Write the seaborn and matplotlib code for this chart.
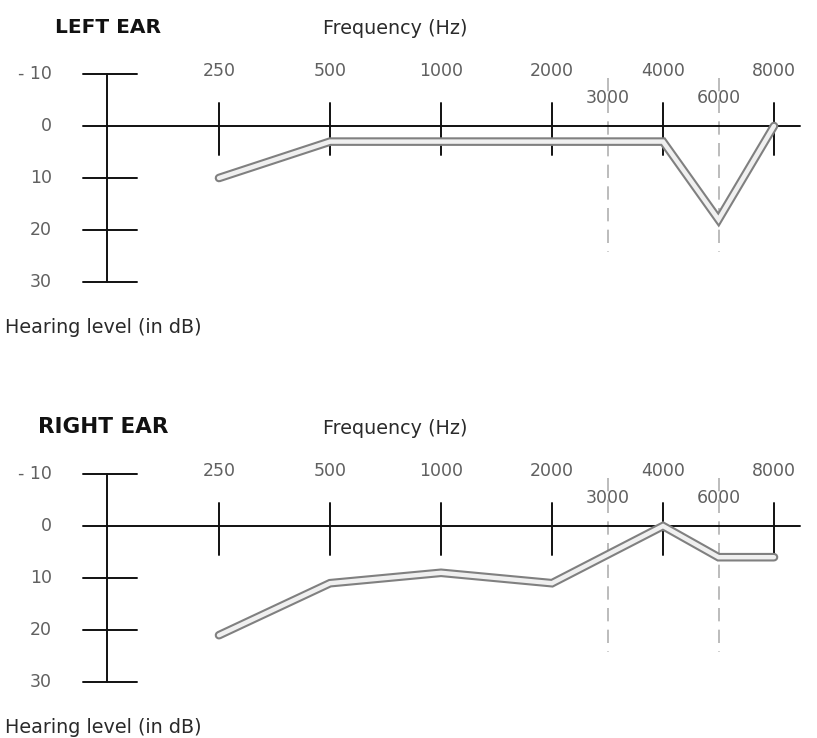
import matplotlib
matplotlib.use("Agg")
import matplotlib.pyplot as plt
import seaborn as sns
import pandas as pd

# ---- data ----
freqs = [250, 500, 1000, 2000, 4000, 6000, 8000]
left_db = [10, 3, 3, 3, 3, 18, 0]
right_db = [21, 11, 9, 11, 0, 6, 6]
main_freq_labels = [250, 500, 1000, 2000, 4000, 8000]
half_freq_labels = [3000, 6000]
db_ticks = [-10, 0, 10, 20, 30]
db_tick_labels = ["- 10", "0", "10", "20", "30"]

# audiogram horizontal scale: octaves equally spaced, 3000/6000 half-way
pos = {250: 0, 500: 1, 1000: 2, 2000: 3, 3000: 3.5, 4000: 4, 6000: 4.5, 8000: 5}

sns.set_theme(style="white")
plt.rcParams['font.family'] = ['DejaVu Sans']

fig = plt.figure(figsize=(8.17, 7.38), dpi=100)
W, H = 817, 738

def px_to_x(px):
    return (px - 219) / 111.0

XL = (px_to_x(0), px_to_x(W))
TXT = '#2a2a2a'
NUM = '#606060'

panels = [
    dict(title="LEFT EAR", data=left_db, rows=(0, 369), zero=126, title_px=55, tfs=14.5),
    dict(title="RIGHT EAR", data=right_db, rows=(369, 738), zero=526, title_px=38, tfs=15.5),
]

for p in panels:
    r0, r1 = p['rows']
    ax = fig.add_axes([0, 1 - r1 / H, 1, (r1 - r0) / H])
    scale = 5.2
    ax.set_xlim(*XL)
    ax.set_ylim((r1 - p['zero']) / scale, (r0 - p['zero']) / scale)
    ax.axis('off')

    lx = -1.009
    # vertical dB axis
    ax.plot([lx, lx], [-10, 30], color='#111111', lw=1.4, zorder=2)
    for t in db_ticks:
        if t != 0:
            ax.plot([px_to_x(83), px_to_x(137)], [t, t], color='#111111', lw=1.4, zorder=2)
    # zero line
    ax.plot([px_to_x(83), px_to_x(800)], [0, 0], color='#111111', lw=1.4, zorder=2)
    # frequency ticks
    for f in main_freq_labels:
        ax.plot([pos[f], pos[f]], [-4.4, 5.6], color='#111111', lw=1.4, zorder=2)
        ax.text(pos[f], -10.5, str(f), ha='center', va='center', fontsize=12.5, color=NUM)
    for f in half_freq_labels:
        ax.plot([pos[f], pos[f]], [-9.3, 24.2], color='#b0b0b0', lw=1.2,
                dashes=(8, 5), zorder=1)
        ax.text(pos[f], -5.4, str(f), ha='center', va='center', fontsize=12.5, color=NUM,
                zorder=3)
    for t, lab in zip(db_ticks, db_tick_labels):
        ax.text(px_to_x(52), t, lab, ha='right', va='center', fontsize=12.5, color=NUM)

    df = pd.DataFrame({'x': [pos[f] for f in freqs], 'db': p['data']})
    sns.lineplot(data=df, x='x', y='db', ax=ax, color='#808080', lw=6.2,
                 sort=False, zorder=4, solid_capstyle='round', solid_joinstyle='miter')
    sns.lineplot(data=df, x='x', y='db', ax=ax, color='#f0f0f0', lw=3.2,
                 sort=False, zorder=5, solid_capstyle='round', solid_joinstyle='miter')

    ax.text(px_to_x(p['title_px']), -19.0, p['title'], ha='left', va='center',
            fontsize=p['tfs'], fontweight='heavy', color='#111111')
    ax.text(px_to_x(323), -18.8, "Frequency (Hz)", ha='left', va='center',
            fontsize=13.8, color=TXT)
    ax.text(px_to_x(5), 38.8, "Hearing level (in dB)", ha='left', va='center',
            fontsize=13.8, color=TXT)
    ax.set_xlabel('')
    ax.set_ylabel('')

fig.savefig("out.png", dpi=100, facecolor='white')
